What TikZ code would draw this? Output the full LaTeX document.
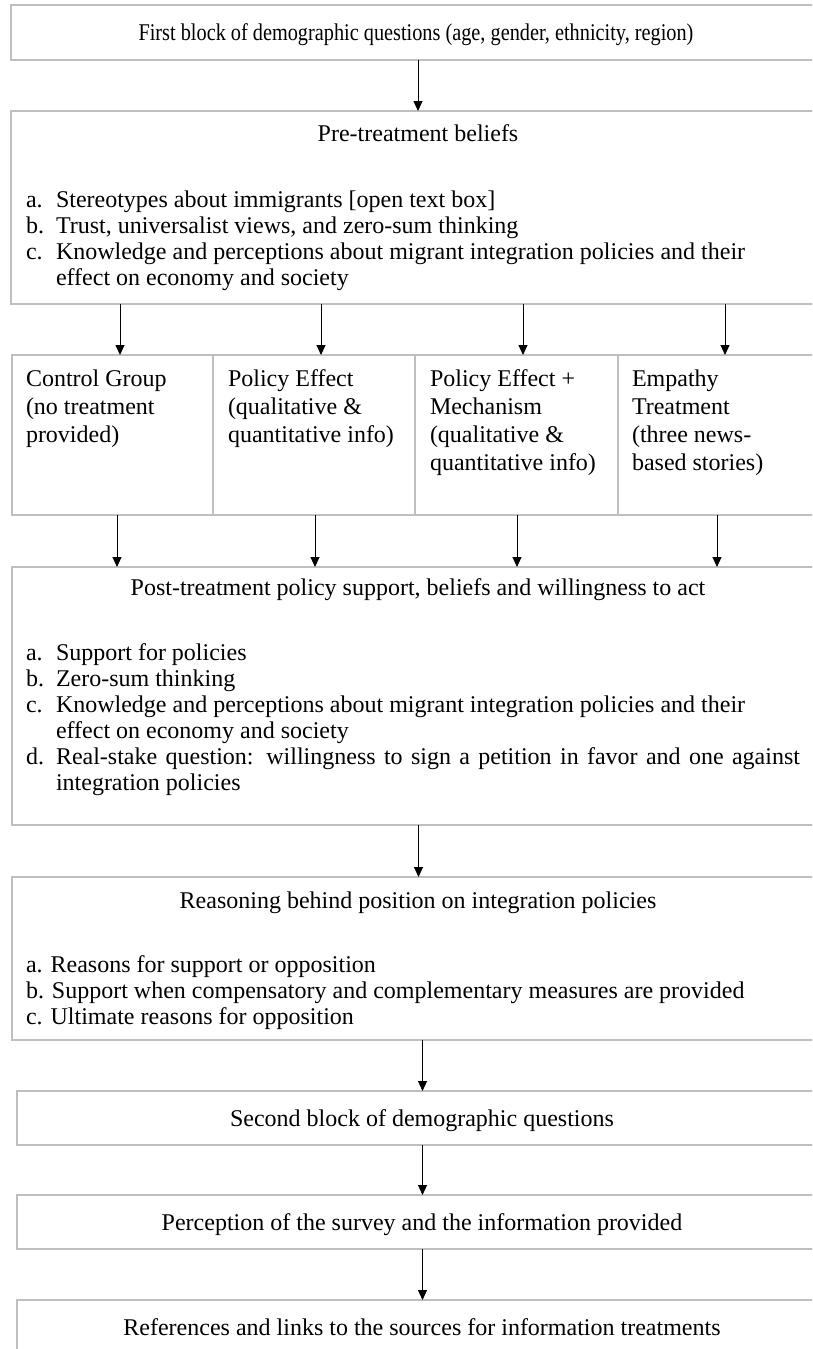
\documentclass[tikz,border=0pt]{standalone}
\usepackage{fontspec}
\setmainfont{Liberation Serif}
\usetikzlibrary{arrows.meta}
\definecolor{boxgray}{RGB}{191,191,191}
\newcommand\fsz{\fontsize{24}{27.6}\selectfont}
\begin{document}
\begin{tikzpicture}[x=1pt,y=-1pt,
  box/.style={draw=boxgray, line width=2pt, inner sep=0pt, outer sep=0pt, anchor=north west},
  lbl/.style={inner sep=0pt, outer sep=0pt, font=\fsz},
  arr/.style={-{Triangle[length=10pt,width=9pt]}, line width=1pt, black}]
\useasboundingbox (0,0) rectangle (812,1349);
\clip (0,0) rectangle (812,1349);
% boxes
\node[box, minimum width=814pt, minimum height=55pt] (b1) at (11,5) {};
\node[box, minimum width=814pt, minimum height=193pt] (pre) at (11,111) {};
\node[box, minimum width=201pt, minimum height=160pt] (r1) at (12,355) {};
\node[box, minimum width=202pt, minimum height=160pt] (r2) at (213,355) {};
\node[box, minimum width=203pt, minimum height=160pt] (r3) at (415,355) {};
\node[box, minimum width=200pt, minimum height=160pt] (r4) at (618,355) {};
\node[box, minimum width=813pt, minimum height=258pt] (post) at (12,567) {};
\node[box, minimum width=813pt, minimum height=163pt] (reas) at (12,877) {};
\node[box, minimum width=811pt, minimum height=54pt] (sec) at (17,1091) {};
\node[box, minimum width=811pt, minimum height=54pt] (perc) at (17,1195) {};
\node[box, minimum width=811pt, minimum height=80pt] (refs) at (17,1300) {};
% texts
\node[lbl, anchor=base] (t1) at (416,40) {\scalebox{0.845}[1]{First block of demographic questions (age, gender, ethnicity, region)}};
\node[lbl, anchor=base] (tpre) at (418,141) {Pre-treatment beliefs};
\node[lbl, anchor=base west] (pa) at (26,207) {a.};
\node[lbl, anchor=base west] (pat) at (56,207) {Stereotypes about immigrants [open text box]};
\node[lbl, anchor=base west] (pb) at (26,233) {b.};
\node[lbl, anchor=base west] (pbt) at (56,233) {Trust, universalist views, and zero-sum thinking};
\node[lbl, anchor=base west] (pc) at (26,259) {c.};
\node[lbl, anchor=base west] (pct) at (56,259) {\parbox[t]{740pt}{\fontsize{24}{26.5}\selectfont Knowledge and perceptions about migrant integration policies and their\\effect on economy and society}};
\node[lbl, anchor=base west] (tr1) at (26,386) {\parbox[t]{185pt}{\fontsize{24}{28}\selectfont Control Group\\(no treatment\\provided)}};
\node[lbl, anchor=base west] (tr2) at (228,386) {\parbox[t]{185pt}{\fontsize{24}{28}\selectfont Policy Effect\\(qualitative \&\\quantitative info)}};
\node[lbl, anchor=base west] (tr3) at (430,386) {\parbox[t]{185pt}{\fontsize{24}{28}\selectfont Policy Effect +\\Mechanism\\(qualitative \&\\quantitative info)}};
\node[lbl, anchor=base west] (tr4) at (632,386) {\parbox[t]{185pt}{\fontsize{24}{28}\selectfont Empathy\\Treatment\\(three news-\\based stories)}};
\node[lbl, anchor=base] (tpost) at (418,595) {Post-treatment policy support, beliefs and willingness to act};
\node[lbl, anchor=base west] (qa) at (26,660) {a.};
\node[lbl, anchor=base west] (qat) at (56,660) {Support for policies};
\node[lbl, anchor=base west] (qb) at (26,686) {b.};
\node[lbl, anchor=base west] (qbt) at (56,686) {Zero-sum thinking};
\node[lbl, anchor=base west] (qc) at (26,712) {c.};
\node[lbl, anchor=base west] (qct) at (56,712) {\parbox[t]{740pt}{\fontsize{24}{26}\selectfont Knowledge and perceptions about migrant integration policies and their\\effect on economy and society}};
\node[lbl, anchor=base west] (qd) at (26,764) {d.};
\node[lbl, anchor=base west] (qdt) at (56,764) {\parbox[t]{760pt}{\fontsize{24}{26}\selectfont \makebox[744pt][s]{Real-stake question: willingness to sign a petition in favor and one against}\\integration policies}};
\node[lbl, anchor=base] (treas) at (418,908) {Reasoning behind position on integration policies};
\node[lbl, anchor=base west] (ra) at (26,972) {a. Reasons for support or opposition};
\node[lbl, anchor=base west] (rb) at (26,998) {b. Support when compensatory and complementary measures are provided};
\node[lbl, anchor=base west] (rc) at (26,1024) {c. Ultimate reasons for opposition};
\node[lbl, anchor=base] (tsec) at (422,1126) {Second block of demographic questions};
\node[lbl, anchor=base] (tperc) at (422,1230) {Perception of the survey and the information provided};
\node[lbl, anchor=base] (trefs) at (422,1335) {References and links to the sources for information treatments};
% arrows
\draw[arr] (b1.south) -- (pre.north);
\coordinate (u1) at ([xshift=7.5pt]r1.north);
\coordinate (u2) at ([xshift=7pt]r2.north);
\coordinate (u3) at ([xshift=6.5pt]r3.north);
\coordinate (u4) at ([xshift=7pt]r4.north);
\foreach \u in {u1,u2,u3,u4} \draw[arr] (\u |- pre.south) -- (\u);
\coordinate (l1) at ([xshift=4.5pt]r1.south);
\coordinate (l2) at ([xshift=1pt]r2.south);
\coordinate (l3) at ([xshift=0.5pt]r3.south);
\coordinate (l4) at ([xshift=-1pt]r4.south);
\foreach \l in {l1,l2,l3,l4} \draw[arr] (\l) -- (\l |- post.north);
\draw[arr] (post.south) -- (reas.north);
\draw[arr] (sec.north |- reas.south) -- (sec.north);
\draw[arr] (sec.south) -- (perc.north);
\draw[arr] (perc.south) -- (refs.north);
\end{tikzpicture}
\end{document}
